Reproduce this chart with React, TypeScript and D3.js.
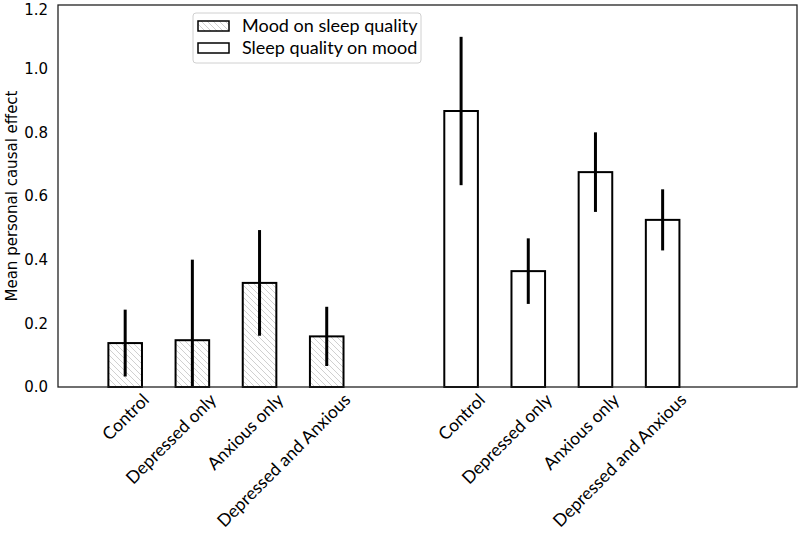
import React from "react";
import * as d3 from "d3";

const categories = ["Control", "Depressed only", "Anxious only", "Depressed and Anxious"];
const seriesNames = ["Mood on sleep quality", "Sleep quality on mood"];
const moodOnSleep = [0.138, 0.147, 0.327, 0.159];
const moodOnSleepErr = [0.105, 0.253, 0.166, 0.093];
const sleepOnMood = [0.867, 0.364, 0.675, 0.525];
const sleepOnMoodErr = [0.233, 0.103, 0.125, 0.096];
const groupPositions = [[0, 1, 2, 3], [5, 6, 7, 8]];
const yTicks = [0, 0.2, 0.4, 0.6, 0.8, 1.0, 1.2];

const W = 800;
const H = 535;
const M = { left: 58, right: 797, top: 5, bottom: 387 };

export default function App() {
  const x = d3.scaleLinear().domain([-1, 10]).range([M.left, M.right]);
  const y = d3.scaleLinear().domain([0, 1.2]).range([M.bottom, M.top]);
  const bw = x(0.5) - x(0);
  const series = [
    { vals: moodOnSleep, errs: moodOnSleepErr, hatch: true },
    { vals: sleepOnMood, errs: sleepOnMoodErr, hatch: false },
  ];
  const labelFont = "Lato, 'Open Sans', sans-serif";
  const axisFont = "DejaVu Sans";
  return (
    <svg width={W} height={H} style={{ position: "absolute", left: 0, top: 0 }}>
      <defs>
        <pattern id="hatch" patternUnits="userSpaceOnUse" width={6} height={6}>
          <path d="M-1,-1 L7,7 M-7,-1 L1,7 M5,-1 L13,7" stroke="#c4c4c4" strokeWidth={0.8} />
        </pattern>
        <clipPath id="plotclip">
          <rect x={M.left} y={M.top} width={M.right - M.left} height={M.bottom - M.top} />
        </clipPath>
      </defs>
      <rect x={0} y={0} width={W} height={H} fill="#fff" />
      {series.map((s, si) =>
        s.vals.map((v, i) => {
          const p = groupPositions[si][i];
          const cx = x(p);
          return (
            <g key={`${si}-${i}`}>
              <rect
                x={cx - bw / 2}
                y={y(v)}
                width={bw}
                height={y(0) - y(v)}
                fill={s.hatch ? "url(#hatch)" : "#fff"}
                stroke="#000"
                strokeWidth={2}
              />
              <line
                x1={cx}
                x2={cx}
                y1={y(v + s.errs[i])}
                y2={y(Math.max(0, v - s.errs[i]))}
                stroke="#000"
                strokeWidth={3}
                clipPath="url(#plotclip)"
              />
            </g>
          );
        })
      )}
      <rect
        x={M.left}
        y={M.top}
        width={M.right - M.left}
        height={M.bottom - M.top}
        fill="none"
        stroke="#222"
        strokeWidth={1.3}
      />
      {yTicks.map((t) => (
        <text
          key={t}
          x={M.left - 10}
          y={Math.max(y(t), 9.5)}
          dy="0.36em"
          textAnchor="end"
          fontFamily={axisFont}
          fontSize={15}
          fill="#000"
        >
          {t.toFixed(1)}
        </text>
      ))}
      <text
        transform={`translate(17, ${(M.top + M.bottom) / 2}) rotate(-90)`}
        textAnchor="middle"
        fontFamily={axisFont}
        fontSize={15}
        fill="#000"
      >
        Mean personal causal effect
      </text>
      {groupPositions.map((g, gi) =>
        g.map((p, i) => (
          <text
            key={`l${gi}-${i}`}
            transform={`translate(${x(p) + 25}, 401) rotate(-45)`}
            textAnchor="end"
            fontFamily={labelFont}
            fontSize={17.5}
            fill="#000"
          >
            {categories[i]}
          </text>
        ))
      )}
      <g>
        <rect x={193} y={13} width={228} height={50} rx={3} fill="#fff" fillOpacity={0.8} stroke="#d0d0d0" strokeWidth={1} />
        {seriesNames.map((n, i) => (
          <g key={n} transform={`translate(0, ${i * 22})`}>
            <rect x={198} y={21} width={31} height={10} fill={i === 0 ? "url(#hatch)" : "#fff"} stroke="#000" strokeWidth={1.5} />
            <text x={242} y={32} fontFamily={labelFont} fontSize={18} fill="#000">
              {n}
            </text>
          </g>
        ))}
      </g>
    </svg>
  );
}
